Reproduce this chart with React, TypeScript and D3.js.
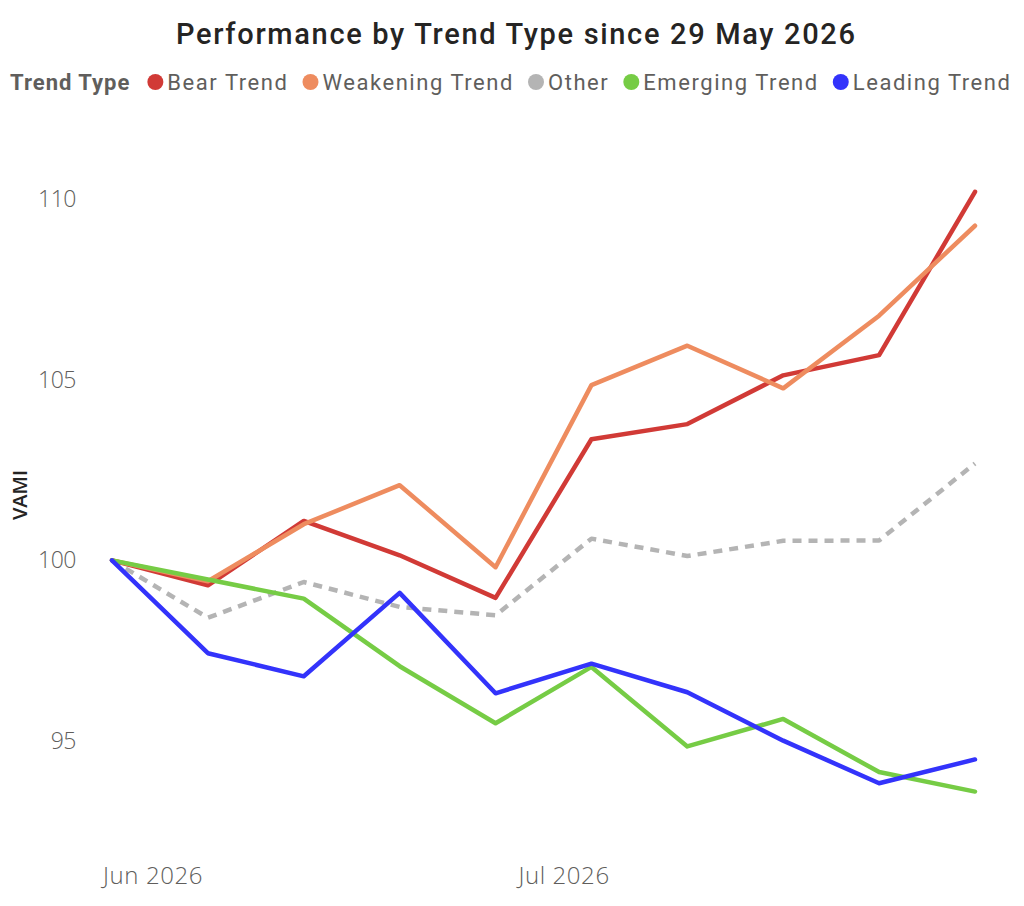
import React, { useEffect, useRef } from "react";
import * as d3 from "d3";

const dates = ["2026-05-29", "2026-06-05", "2026-06-12", "2026-06-19", "2026-06-26", "2026-07-03", "2026-07-10", "2026-07-17", "2026-07-24", "2026-07-31"];
const seriesNames = ["Bear Trend", "Weakening Trend", "Other", "Emerging Trend", "Leading Trend"];
const seriesColors = ["#D13A36", "#EE8C5F", "#B4B4B4", "#76CC45", "#3333FB"];
const bear = [100, 99.31, 101.09, 100.14, 98.96, 103.35, 103.77, 105.12, 105.68, 110.2];
const weakening = [100, 99.42, 101.0, 102.08, 99.81, 104.85, 105.94, 104.76, 106.77, 109.26];
const other = [100, 98.41, 99.4, 98.71, 98.48, 100.6, 100.12, 100.54, 100.55, 102.68];
const emerging = [100, 99.47, 98.94, 97.07, 95.49, 97.05, 94.85, 95.61, 94.14, 93.6];
const leading = [100, 97.43, 96.79, 99.1, 96.32, 97.14, 96.35, 95.01, 93.83, 94.49];
const yTicks = [95, 100, 105, 110];
const xTicks = ["2026-06-01", "2026-07-01"];
const title = "Performance by Trend Type since 29 May 2026";
const legendTitle = "Trend Type";
const yLabel = "VAMI";

const W = 1024;
const H = 906;

export default function App() {
  const ref = useRef<SVGSVGElement | null>(null);
  useEffect(() => {
    const svg = d3.select(ref.current);
    svg.selectAll("*").remove();
    const parse = d3.utcParse("%Y-%m-%d");
    const xs = dates.map((d) => parse(d) as Date);
    const x = d3.scaleUtc().domain([xs[0], xs[xs.length - 1]]).range([112, 975]);
    const y = d3.scaleLinear().domain([95, 110]).range([741, 199]);
    const allSeries = [bear, weakening, other, emerging, leading];

    svg.append("text").attr("x", 176).attr("y", 44)
      .attr("font-family", "Roboto").attr("font-size", 29).attr("fill", "#252423").attr("font-weight", 500)
      .attr("textLength", 679).attr("lengthAdjust", "spacing")
      .text(title);

    // legend
    const lg = svg.append("g").attr("transform", "translate(0,82)");
    const lt = lg.append("text").attr("x", 10).attr("y", 8).attr("font-family", "Roboto").attr("font-weight", 700)
      .attr("font-size", 22).attr("letter-spacing", 1).attr("fill", "#605E5C").text(legendTitle);
    let cx = 10 + (lt.node() as SVGTextElement).getComputedTextLength() + 17;
    seriesNames.forEach((n, i) => {
      lg.append("circle").attr("cx", cx + 8).attr("cy", 0).attr("r", 8).attr("fill", seriesColors[i]);
      const t = lg.append("text").attr("x", cx + 20).attr("y", 8).attr("font-family", "Roboto")
        .attr("font-size", 22).attr("letter-spacing", 1.55).attr("fill", "#605E5C").text(n);
      cx += 20 + (t.node() as SVGTextElement).getComputedTextLength() + 14;
    });

    // y axis
    const ya = svg.append("g");
    ya.selectAll("text").data(yTicks).join("text")
      .attr("x", 76).attr("y", (d) => y(d) + 8).attr("text-anchor", "end")
      .attr("font-family", "Open Sans").attr("font-weight", 300).attr("font-size", 23).attr("fill", "#605E5C")
      .attr("letter-spacing", -0.5)
      .text((d) => String(d));
    svg.append("text").attr("transform", `translate(27,${495}) rotate(-90)`).attr("text-anchor", "middle")
      .attr("font-family", "Open Sans").attr("font-weight", 600).attr("font-size", 20).attr("fill", "#252423")
      .text(yLabel);

    // x axis
    const fmt = d3.utcFormat("%b %Y");
    svg.append("g").selectAll("text").data(xTicks.map((d) => parse(d) as Date)).join("text")
      .attr("x", (d) => x(d)).attr("y", 884).attr("text-anchor", "middle")
      .attr("font-family", "Open Sans").attr("font-weight", 300).attr("font-size", 24).attr("fill", "#605E5C")
      .attr("letter-spacing", 0.6)
      .text((d) => fmt(d));

    const line = d3.line<number>().x((_, i) => x(xs[i])).y((v) => y(v));
    const order = [2, 0, 1, 3, 4];
    order.forEach((i) => {
      svg.append("path").attr("d", line(allSeries[i]) as string).attr("fill", "none")
        .attr("stroke", seriesColors[i]).attr("stroke-width", 4.5)
        .attr("stroke-linejoin", "round").attr("stroke-linecap", i === 2 ? "butt" : "round")
        .attr("stroke-dasharray", i === 2 ? "9,7" : null);
    });
  }, []);
  return <svg ref={ref} width={W} height={H} style={{ display: "block", position: "absolute", left: 0, top: 0 }} />;
}
